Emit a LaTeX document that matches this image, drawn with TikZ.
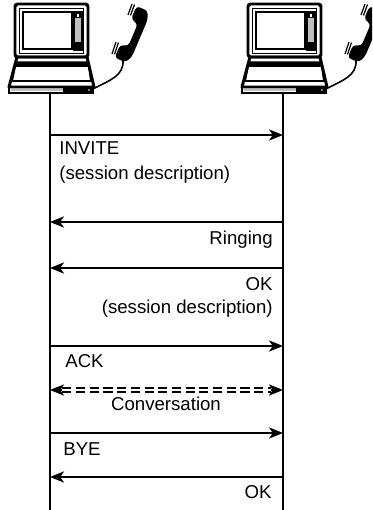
\documentclass[tikz,border=0pt]{standalone}
\usepackage{fontspec}
\setmainfont{Liberation Sans}
\usetikzlibrary{arrows.meta}

\begin{document}
\begin{tikzpicture}[x=0.02cm,y=-0.02cm,
	msg/.style={line width=0.9pt,-{Stealth[length=8pt,width=6.4pt,inset=2.2pt]}},
	life/.style={line width=0.9pt},
	lbl/.style={inner sep=0pt,font=\fontsize{10.6}{12}\selectfont}]
	\useasboundingbox (0,0) rectangle (372,510);
	\clip (0,0) rectangle (372,510);

	% Laptop with handset, left and right
	\foreach \s in {0,233} {
	\begin{scope}[shift={(\s,0)}]
		% lid and screen
		\draw[line width=1.7pt,rounded corners=1.5pt] (15,4) rectangle (88,57);
		\draw[line width=0.8pt] (19.5,8.5) rectangle (83.5,53.5);
		\draw[line width=1.4pt] (23,12) rectangle (72,49);
		\filldraw[fill=black!25,line width=0.8pt] (74,12) rectangle (82,50);
		\filldraw[fill=white,line width=0.6pt] (76,13.5) rectangle (80,17.5);
		\fill (74,42) rectangle (82,50);
		% keyboard part
		\draw[line width=1.7pt,line join=round] (17,57) -- (87,57) -- (94,87) -- (9,87) -- cycle;
		\fill (16,61.5) -- (88,61.5) -- (89,66) -- (15,66) -- cycle;
		\draw[line width=1.1pt] (15,66) -- (89,66) -- (91,81) -- (12,81) -- cycle;
		\draw[line width=1.2pt] (9,87) rectangle (93,93);
		\fill[black!25] (11,88.8) rectangle (63,91.2);
		\fill (63,87) rectangle (93,93);
		\fill[white] (89,90) circle (0.8);
		% handset, ringing marks and cord
		\fill[shift={(133,35)},rotate=-23,rounded corners=2pt] (-8,-28) -- (4,-28) -- (7.5,-20) -- (7.5,20) -- (4,28) -- (-8,28) -- (-8,14) -- (0,12) -- (0,-12) -- (-8,-14) -- cycle;
		\draw[line width=0.7pt] (132,4) -- (128,15);
		\draw[line width=0.7pt] (134.5,4.5) -- (130.5,15.5);
		\draw[line width=0.7pt] (116,42) -- (112,54);
		\draw[line width=0.7pt] (118.5,42.5) -- (114.5,54.5);
		\draw[line width=0.9pt] (123,60) .. controls (124,76) and (110,80) .. (93,89);
	\end{scope}
	}

	% Lifelines
	\coordinate (a-top) at (50,93);
	\coordinate (a-end) at (50,510);
	\coordinate (b-top) at (283,93);
	\coordinate (b-end) at (283,510);
	\draw[life] (a-top) -- (a-end);
	\draw[life] (b-top) -- (b-end);

	\foreach \m/\y in {invite/135,ringing/222,ok/268,ack/346,conv/390,bye/433,okbye/477} {
		\coordinate (\m-a) at (50,\y);
		\coordinate (\m-b) at (283,\y);
	}

	% Messages
	\draw[msg] (invite-a) -- (invite-b);
	\node[lbl,anchor=base west] (invite-l1) at (59,154) {INVITE};
	\node[lbl,anchor=base west] (invite-l2) at (59,179) {(session description)};

	\draw[msg] (ringing-b) -- (ringing-a);
	\node[lbl,anchor=base east] (ringing-l) at (273,244) {Ringing};

	\draw[msg] (ok-b) -- (ok-a);
	\node[lbl,anchor=base east] (ok-l1) at (273,290) {OK};
	\node[lbl,anchor=base east] (ok-l2) at (273,313) {(session description)};

	\draw[msg] (ack-a) -- (ack-b);
	\node[lbl,anchor=base west] (ack-l) at (65,367) {ACK};

	% Conversation, dashed both ways
	\draw[line width=0.95pt,double distance=1.1pt,dash pattern=on 5.2pt off 2.6pt,shorten <=7pt,shorten >=7pt] (conv-a) -- (conv-b);
	\draw[msg] ([xshift=7pt]conv-a) -- (conv-a);
	\draw[msg] ([xshift=-7pt]conv-b) -- (conv-b);
	\node[lbl,anchor=base] (conv-l) at (166,410) {Conversation};

	\draw[msg] (bye-a) -- (bye-b);
	\node[lbl,anchor=base west] (bye-l) at (63,455) {BYE};

	\draw[msg] (okbye-b) -- (okbye-a);
	\node[lbl,anchor=base east] (okbye-l) at (272,498) {OK};
\end{tikzpicture}
\end{document}
